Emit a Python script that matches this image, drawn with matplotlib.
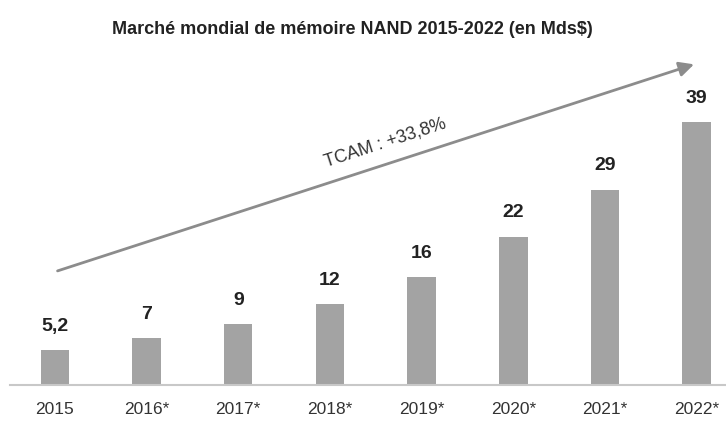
import matplotlib.pyplot as plt
import numpy as np

years = ['2015', '2016*', '2017*', '2018*', '2019*', '2020*', '2021*', '2022*']
values = [5.2, 7, 9, 12, 16, 22, 29, 39]
labels = ['5,2', '7', '9', '12', '16', '22', '29', '39']
cagr_text = 'TCAM : +33,8%'

plt.rcParams['font.family'] = ['Liberation Sans Narrow', 'Liberation Sans', 'DejaVu Sans']

fig = plt.figure(figsize=(7.26, 4.25), dpi=100)
ax = fig.add_axes([10 / 726, 40 / 425, 716 / 726, 335 / 425])

x = np.arange(len(years))
bars = ax.bar(x, values, width=0.31, color='#a3a3a3', zorder=2)

for xi, v, lab in zip(x, values, labels):
    ax.annotate(lab, (xi, v), xytext=(0, 11), textcoords='offset points',
                ha='center', va='bottom', fontsize=14, fontweight='bold', color='#222222')

ax.set_xlim(-0.49, 7.32)
ax.set_ylim(0, 49.7)
ax.set_xticks(x)
ax.set_xticklabels(years, fontsize=12.5, color='#333333')
ax.tick_params(axis='x', length=0, pad=12)
ax.set_yticks([])
for s in ['top', 'right', 'left']:
    ax.spines[s].set_visible(False)
ax.spines['bottom'].set_color('#c8c8c8')
ax.spines['bottom'].set_linewidth(1.5)

# growth arrow
ax.annotate('', xy=(7.0, 47.7), xytext=(0, 16.8),
            arrowprops=dict(arrowstyle='-|>', color='#8c8c8c', lw=2, mutation_scale=22))
ax.text(3.6, 35.9, cagr_text, rotation=18, ha='center', va='center',
        fontsize=13, color='#333333', rotation_mode='anchor')

fig.suptitle('Marché mondial de mémoire NAND 2015-2022 (en Mds$)', y=0.95,
             fontsize=13, fontweight='bold', color='#222222', x=0.485)

fig.savefig('out.png', dpi=100)
